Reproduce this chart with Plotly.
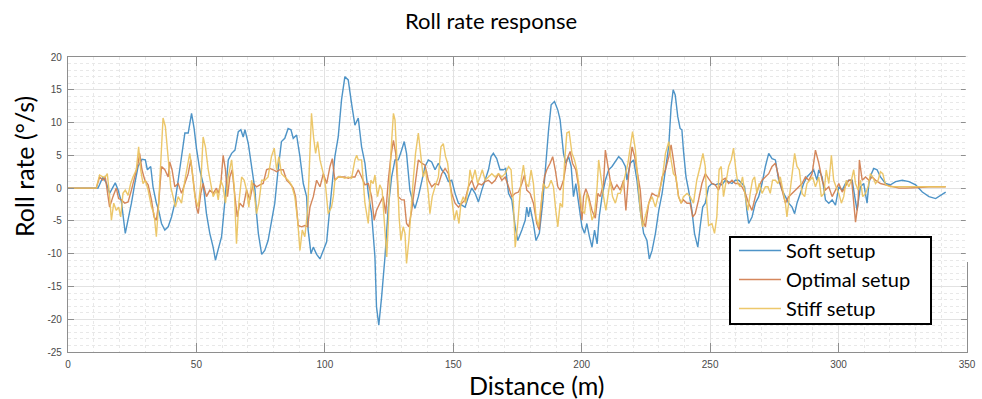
import plotly.graph_objects as go

# ---------------- data ----------------
soft_x = [0, 11, 11.7, 13.6, 15, 16.2, 17.5, 18.4, 19.5, 20.8, 22.3, 23.4, 24.7, 26, 27.3, 28.8, 30.1, 30.9, 32.2, 33.1,
          34.4, 35.3, 36.4, 37.7, 39, 40.3, 41.6, 42.9, 44.2, 45.5, 46.8, 48.1, 49.1, 50, 51.3, 52.6, 53.9, 55.2, 56.5, 57.4,
          58.5, 59.8, 61, 62.4, 63.7, 65, 66.3, 67.3, 68.2, 68.9, 70.2, 71.5, 72.8, 73.4, 74.1, 75.4, 76.6, 77.9, 79.2, 80.5,
          81.8, 83.1, 84.4, 85.7, 86.8, 87.7, 89, 90.3, 91.6, 92.9, 93.5, 94.6, 95.5, 96.8, 98.1, 99.4, 100.7, 101.6, 102.6, 103.9,
          105.2, 106.5, 107.8, 109.1, 110.4, 111.7, 113, 114.3, 115.6, 116.9, 118.2, 119.5, 120.1, 121, 122.1, 123.4, 124.7, 126, 127.3, 128.6,
          129.9, 130.9, 131.8, 133.1, 134.4, 135.1, 136.4, 137.7, 139, 140.3, 141.6, 142.9, 144.2, 145.5, 146.8, 148.1, 149.4, 150.7, 152, 153.3,
          154.6, 155.9, 157.2, 158.5, 159.8, 161.1, 162.4, 163.7, 164.7, 165.6, 166.9, 168.2, 169.5, 170.4, 171.5, 172.8, 174.1, 175.1, 176.7, 178,
          178.6, 179.3, 179.9, 181.2, 182.2, 183.5, 184.8, 186, 187.1, 188.1, 189.4, 190.7, 191.6, 192.9, 193.8, 194.9, 195.9, 196.8, 197.7, 198.8,
          200.1, 201.1, 202, 203, 204, 205, 206, 206.8, 207.9, 209.2, 210.5, 211.8, 213.1, 214.4, 215.7, 217, 217.6, 218.9, 220.2, 221.5,
          222.8, 224.1, 225.4, 226.3, 227.4, 228.7, 230, 231.3, 232.6, 233.9, 234.8, 235.6, 236.4, 237.4, 238.3, 239, 239.6, 240.6, 241.6, 242.9,
          243.9, 245.2, 246.1, 247.1, 248.1, 249.4, 250.7, 252, 253.3, 254.6, 255.9, 257.2, 258.5, 259.8, 261.1, 262.4, 263.4, 264.3, 265, 266.3,
          267.6, 268.9, 270.2, 271.5, 272.8, 274.1, 275.4, 276.7, 278, 279.3, 280.6, 281.9, 282.9, 283.8, 285.1, 286.4, 287.7, 289, 290.3, 291.6,
          292.3, 293.6, 294.9, 296.2, 297.5, 298.8, 300.1, 301.4, 302.7, 304, 305.3, 306.3, 307.2, 308.5, 309.8, 311.1, 311.8, 312.8, 313.7, 315,
          316.3, 318.3, 320.2, 322.2, 324.8, 327.4, 330, 332.6, 335.2, 337.8, 339.7, 341.7]
soft_y = [0, 0, 0, 1.7, 0.7, -0.8, 0.2, 0.8, -0.3, -2.1, -6.9, -4.9, -2.3, 0.7, 3.3, 4.4, 4.3, 2.8, 3.3, 0.2,
          -2.3, -3.4, -5.4, -6.4, -5.9, -4.4, -2.3, 1.2, 4.8, 8.4, 8.4, 11.4, 9.1, 6.1, 2.8, 0.7, -3.9, -6.9, -9.0, -11.0,
          -9.3, -7.4, -2.3, 4.3, 5.3, 5.8, 8.6, 8.9, 7.8, 8.9, 6.8, 2.8, -0.3, -3.9, -6.9, -10.1, -9.5, -8.0, -4.9, -2.3,
          2.8, 7.1, 7.6, 9.1, 8.9, 7.6, 8.1, 4.8, 0.7, -1.3, -6.4, -10.0, -9.0, -10.1, -10.8, -9.5, -8.2, -4.4, -0.8, 4.8,
          7.8, 13.5, 17.0, 16.5, 12.9, 9.6, 10.7, 6.3, 3.8, -0.8, -3.9, -10.5, -18.1, -20.9, -16.6, -10.5, -2.9, 1.7, 4.3, 4.3,
          5.8, 7.1, 5.3, -0.3, -2.3, -3.1, -1.3, 1.2, 3.3, 4.3, 4.0, 2.8, 3.8, 2.8, 2.2, 1.0, 1.2, -0.8, -2.3, -2.6,
          -2.9, -1.3, 0.0, -0.8, -2.1, -0.3, 1.2, 2.8, 4.8, 5.3, 4.5, 2.8, 2.8, 3.0, -0.8, -1.8, -5.9, -8.0, -6.4, -4.9,
          -2.9, -4.4, -2.9, -5.4, -8.0, -6.9, -2.3, 3.8, 8.9, 12.7, 13.2, 11.9, 10.4, 5.3, 3.8, 4.8, 3.3, -1.3, 0.7, -2.3,
          -5.9, -6.9, -5.4, -7.4, -9.0, -6.4, -8.5, -4.4, -1.3, 1.2, 2.8, 3.3, 4.0, 4.8, 4.3, 3.3, 1.2, 3.8, 4.3, 1.2,
          -3.4, -6.9, -8.0, -10.8, -9.5, -6.9, -3.4, -0.8, 2.8, 6.5, 12.4, 15.0, 14.2, 10.9, 9.1, 8.9, 5.8, 1.7, -0.3, -3.4,
          -6.9, -9.0, -5.9, -2.9, -2.3, 0.2, 0.7, 0.5, 0.7, 0.5, 1.2, 1.0, 0.7, 1.2, 1.2, 0.7, 0.2, -3.4, -5.4, -4.4,
          -2.3, -1.3, 0.7, 3.3, 5.3, 4.5, 4.3, 1.2, -0.3, -1.3, -2.3, -2.9, -3.9, -2.3, -0.8, 0.7, 1.7, 2.2, 2.8, 1.2,
          2.8, 1.7, -1.8, -2.3, -1.8, -2.6, 0.2, -0.3, 0.7, 1.2, 1.2, -1.3, -3.4, 0.2, 0.7, -2.3, 0.7, 2.2, 3.0, 2.8,
          1.7, 0.7, 0.5, 1.0, 1.2, 1.0, 0.5, -0.6, -1.3, -1.6, -1.1, -0.6]

optimal_x = [0, 11, 12.3, 13.6, 14.5, 15.3, 16.2, 17.5, 18.8, 19.7, 20.8, 22.1, 23.4, 24.7, 26, 27.3, 27.9, 28.8, 29.9, 31.2,
             32.5, 33.5, 34.4, 35.3, 36.4, 37.7, 39, 39.6, 40.5, 41.6, 42.9, 44.2, 45.5, 46.8, 47.8, 48.7, 50, 50.7, 51.7, 52.6,
             53.9, 55.2, 56.5, 57.8, 58.5, 59.5, 60.4, 61.3, 62.1, 63, 63.9, 65, 65.9, 66.9, 68.2, 69.5, 70.8, 72.1, 73.4, 74.7,
             76, 77.3, 78.6, 79.9, 81.2, 82.5, 83.8, 85.1, 86.4, 87.7, 88.6, 89.6, 90.9, 92.2, 93.3, 94.2, 95.5, 96.8, 98.1, 99.4,
             100.7, 102, 102.9, 103.9, 105.2, 106.5, 107.8, 109.1, 110.4, 111.7, 113, 114.3, 115.6, 116.9, 118.2, 119.2, 120.1, 121.4, 122.7, 123.7,
             124.7, 125.7, 126.7, 127.6, 128.6, 129.9, 130.9, 131.8, 132.7, 133.8, 135.1, 136.4, 137.7, 139, 140.3, 141.6, 142.9, 144.2, 145.5, 146.8,
             148.1, 149.4, 150.7, 152, 153.3, 154.6, 155.9, 157.2, 158.5, 159.8, 161.1, 162.4, 163.7, 165, 166.3, 167.6, 168.9, 170.2, 171.5, 172.8,
             174.1, 175.4, 176.7, 177.7, 178.6, 179.9, 181.2, 182.5, 183.5, 184.5, 185.5, 186.4, 187.7, 188.7, 189.7, 190.7, 191.6, 192.9, 194.2, 195.5,
             196.4, 197.7, 198.8, 200.1, 200.7, 201.6, 202.7, 204, 205.3, 206.3, 207.2, 208.5, 209.2, 210.2, 211.1, 212.4, 213.7, 215, 216.3, 217.2,
             218.3, 219.6, 220.6, 221.5, 222.8, 223.7, 224.8, 226.1, 227.4, 228.7, 230, 231.3, 232.6, 233.9, 234.8, 235.7, 236.7, 237.7, 238.7, 239.6,
             241, 242.2, 243.2, 244.2, 245.5, 246.8, 248.1, 249.4, 250.7, 252, 253.3, 254.6, 255.9, 257.2, 258.5, 259.8, 261.1, 262.4, 263.7, 265,
             266.3, 267.6, 268.9, 270.2, 271.5, 272.8, 274.1, 275.4, 276.7, 278, 279.3, 280.6, 281.9, 283.2, 284.5, 285.8, 287.1, 288.4, 289.7, 291,
             292.3, 293.6, 294.9, 296.2, 297.5, 298.8, 300.1, 301.4, 302.7, 304, 305.1, 305.9, 306.6, 307.6, 308.1, 309.2, 310.5, 311.8, 313.1, 314.4,
             316.3, 318.3, 320.9, 323.5, 326.1, 328.7, 331.3, 335.2, 339.1, 341.7]
optimal_y = [0, 0, 1.7, 1.2, 1.7, -0.8, -2.9, -1.3, 0.0, -1.6, -1.8, -2.3, -2.1, -0.3, 1.7, 3.8, 5.3, 2.8, 1.2, 0.5,
             -1.8, -4.4, -4.9, -2.3, 3.3, 2.8, 1.7, 4.0, 2.8, 0.2, 0.7, -0.8, 0.7, 2.2, 4.3, 1.2, -2.9, -3.9, -0.8, 0.7,
             -1.3, -0.3, -0.8, 0.0, -0.8, 0.7, 5.0, 2.8, -1.3, 1.7, 2.8, -1.3, -4.4, -2.3, -2.9, -0.3, -1.8, 0.7, 0.2, 0.5,
             0.7, 2.8, 3.0, 2.8, 2.5, 2.8, 2.8, 1.2, 0.7, 0.0, -1.3, -5.7, -5.9, -5.7, -5.9, -2.9, -1.3, 1.2, 0.2, 2.2,
             0.7, 3.3, 4.5, 1.2, 1.7, 1.7, 1.7, 1.5, 1.7, 1.7, 2.8, 1.7, 0.5, 0.7, -1.3, -4.9, -3.4, -2.3, -1.3, -3.9,
             1.2, 4.8, 7.3, 5.3, -1.3, -1.8, -1.8, -5.4, -5.9, -3.4, 0.7, 4.3, 3.8, 3.5, 1.2, 0.2, 0.7, 0.5, 2.2, 3.0,
             2.2, -0.8, -2.3, -2.9, -2.3, -1.8, 0.2, 1.2, -0.3, 0.7, 0.5, 1.0, 1.2, 0.7, 1.2, 2.2, 1.2, 1.7, 0.2, -1.3,
             -0.8, -0.6, 0.7, 2.0, -0.3, -0.8, -2.3, -5.4, -6.4, -1.3, 1.7, 2.8, 3.8, 4.8, 2.8, 0.2, -0.3, 1.2, 4.3, 5.6,
             3.8, 2.8, 0.2, -4.9, -1.3, -0.1, -1.3, -3.4, -4.6, -0.8, -1.3, 0.7, 5.8, 3.3, 1.2, -0.3, 0.5, -0.3, 1.2, -3.4,
             2.2, 6.3, 4.8, 2.8, -0.3, -4.9, -5.9, -2.3, -0.8, -1.1, -1.3, 1.7, 2.8, 4.8, 6.6, 4.3, 1.2, -1.3, -2.3, -1.8,
             -2.3, -2.3, -4.4, -3.9, -1.8, 0.7, 2.2, 1.5, 0.7, 0.5, -0.3, 1.2, 1.5, 0.7, 1.2, 0.7, 0.7, 0.2, -0.8, -2.3,
             -3.4, -1.3, 0.2, 1.2, 1.7, 2.2, 3.3, 3.8, 1.7, -0.3, -2.3, -1.3, -0.8, -0.3, 0.2, 0.7, 1.7, 1.2, 2.2, 5.8,
             3.8, 1.2, -0.3, 0.2, -1.3, -0.3, 0.7, -0.6, 0.2, 1.2, 1.2, -2.3, -5.2, -2.3, 4.3, 1.2, 1.7, 1.2, 1.7, 1.2,
             0.7, 0.5, 0.2, 0.0, 0.0, 0.0, 0.1, 0.2, 0.2, 0.2]

stiff_x = [0, 11, 12.3, 13.6, 14.5, 15.3, 16.2, 16.9, 17.8, 18.8, 19.7, 20.5, 21.4, 22.3, 23.4, 24.4, 25.3, 26.6, 27.5, 28.3,
           29.2, 30.1, 31.2, 32.5, 33.5, 34.4, 35.3, 36.1, 37, 37.9, 39, 40, 40.9, 41.8, 42.9, 44.2, 45.5, 46.5, 47.4, 48.3,
           49.4, 50.7, 51.7, 52.6, 53.5, 54.6, 55.6, 56.5, 57.8, 58.5, 59.5, 60.4, 61.3, 62.4, 63.7, 64.7, 65.6, 66.5, 67.6, 68.6,
           69.5, 70.4, 71.5, 72.5, 73.4, 74.3, 75.4, 76.6, 77.9, 79.2, 80.3, 81.2, 82.1, 83.1, 84.4, 85.7, 87, 88.3, 89.4, 90.3,
           91.2, 92.2, 93.3, 94.2, 94.8, 95.6, 96.4, 97.2, 98.1, 99.4, 100.3, 101.3, 102.6, 103.3, 103.9, 105.2, 106.5, 107.8, 109.1, 110.4,
           111.7, 112.4, 113, 114.3, 115.6, 116.9, 117.9, 118.8, 119.5, 120.5, 121.4, 122.3, 123.4, 124.1, 124.7, 125.7, 126.7, 127.3, 128, 128.9,
           129.6, 130.5, 131.2, 131.8, 132.7, 133.5, 134.4, 135.3, 136.4, 137.4, 138.3, 139.2, 140.3, 140.9, 141.8, 142.9, 144.2, 145.2, 146.1, 147,
           147.8, 148.7, 149.6, 150.4, 151.3, 152.2, 153, 153.9, 154.8, 155.9, 156.5, 157.4, 158.5, 159.5, 160.4, 161.3, 162.4, 163.7, 165, 166.3,
           167.6, 168.9, 170.2, 171.5, 172.5, 173.4, 174.1, 175.1, 176.4, 177.3, 178.3, 179.3, 180.3, 181.2, 182.2, 183.2, 184.2, 185.1, 186.1, 187.1,
           188.1, 189, 189.9, 190.7, 191.6, 192.5, 193.3, 194.2, 195.1, 196.2, 197.2, 198.1, 199, 200.1, 201.1, 202, 203, 204, 205, 206,
           206.6, 207.6, 208.5, 209.4, 210.2, 211.1, 212, 213.1, 214.1, 215, 215.9, 217, 218, 218.9, 219.8, 220.9, 221.9, 222.8, 223.7, 224.8,
           226.1, 227.4, 228.7, 230, 231.3, 232.6, 233.9, 234.8, 235.7, 236.7, 237.7, 238.7, 239.6, 241, 242.2, 243.5, 244.8, 246.1, 247.2, 248.1,
           248.7, 249.4, 250.7, 251.7, 252.6, 253.5, 254.3, 255.2, 256.1, 257.2, 258.2, 259.1, 260, 260.8, 261.7, 262.6, 263.7, 264.7, 265.6, 266.5,
           267.3, 268.2, 269.1, 270.2, 271.5, 272.5, 273.4, 274.3, 275.4, 276.4, 277.3, 278.2, 279.3, 279.9, 280.8, 281.9, 282.9, 283.8, 284.7, 285.8,
           286.8, 287.7, 289, 289.9, 291, 292.3, 293.3, 294.3, 295.2, 296.2, 297.2, 298.1, 299, 300.1, 301.1, 302, 303, 304, 305, 305.9,
           306.6, 307.6, 308.5, 309.4, 310.5, 311.5, 312.4, 313.3, 314.4, 315.4, 316.3, 317.2, 318.3, 320.2, 323.5, 327.4, 331.3, 336.5, 341.7]
stiff_y = [0, 0, 2.0, 1.7, 1.7, 2.2, -1.3, -4.9, -2.3, -3.4, -2.9, -4.4, -0.8, -0.3, -1.1, 0.7, 1.7, 2.8, 6.3, 2.8,
           0.7, 1.2, -0.3, -2.9, -3.9, -7.4, -2.3, 4.3, 10.7, 9.4, 4.8, 0.2, -1.3, -2.9, -1.3, -2.3, 1.2, 3.3, 5.3, 2.8,
           -1.3, -2.9, 0.7, 7.8, 6.3, 2.8, 0.7, -1.3, -0.3, -1.8, 1.2, 0.2, -2.3, 1.7, 4.3, 0.2, -8.5, -2.3, 1.7, 1.2,
           -0.3, -2.9, 1.2, -0.8, -3.9, -2.3, 1.2, 1.2, 1.7, 4.8, 6.1, 2.8, 4.8, 2.2, 1.7, 1.2, 0.5, -1.3, -4.9, -9.5,
           -6.4, -7.4, -3.4, 5.3, 11.4, 7.8, 5.3, 7.1, 4.3, 2.2, 0.2, -3.9, -2.9, -1.3, 1.2, 1.7, 1.7, 1.5, 1.7, 1.5,
           4.3, 5.0, 4.3, 4.3, -2.3, -5.4, 1.2, 0.7, 2.0, -1.3, 0.5, -0.3, -5.9, -10.5, -5.4, 5.3, 11.4, 10.4, 4.8, -4.4,
           -8.0, -5.9, -6.9, -11.5, -8.0, -3.4, 1.2, 5.3, 8.4, 4.8, 1.7, 2.8, -0.8, -3.9, -1.3, 0.2, 1.7, 6.3, 6.8, 4.8,
           3.8, 0.7, -2.3, -4.9, -3.4, -5.4, -2.3, -1.3, -2.3, 0.2, 2.8, 1.2, 2.8, 0.7, 1.7, 2.8, 1.2, 1.7, 2.2, 1.7,
           2.2, 1.7, 2.2, 3.3, 2.8, -2.3, -9.0, -5.4, 1.2, 3.5, 0.7, 0.2, 2.8, 0.7, -4.4, -5.9, -2.3, 0.7, 0.0, 0.2,
           1.2, 0.2, -3.4, -5.9, -2.3, -2.9, 3.8, 8.4, 8.6, 5.3, 4.3, 2.8, 0.2, -3.4, -3.9, -0.8, -2.3, -4.9, -3.9, 0.2,
           4.3, 1.2, -1.3, -3.4, -0.8, 1.2, -1.3, -2.3, -0.8, -0.8, 0.2, 2.2, 3.8, 6.3, 8.6, 5.8, 1.2, -3.4, -5.9, -4.4,
           -2.3, -1.3, -2.9, -0.8, 1.2, 5.3, 7.1, 4.3, 2.2, 1.7, -1.3, -2.3, -1.3, -0.8, -1.3, -2.3, 1.2, 3.3, 5.3, 3.3,
           -2.3, -5.7, -5.4, -6.9, -4.4, 2.8, 3.3, -1.3, 0.7, 3.3, 4.3, 6.1, 2.8, 0.7, 0.2, 1.7, -1.3, -3.4, -0.8, 1.2,
           1.7, -0.8, 0.7, -0.8, 0.2, 0.2, -0.8, 1.2, 1.2, 0.7, 1.7, -0.3, -2.3, -4.4, -1.3, 2.8, 5.3, 3.3, 2.8, -0.8,
           -1.3, 0.7, 1.2, 1.7, 0.2, 1.7, -1.3, -0.8, 2.8, 0.7, 5.0, 1.2, 0.2, -0.8, -2.3, -1.3, 1.2, 0.2, 1.2, 2.8,
           0.7, -0.3, 1.2, -1.3, -0.8, 0.2, 2.2, 1.7, 0.7, 1.2, 2.5, 2.2, 0.5, 0.2, 0.2, 0.2, 0.2, 0.2, 0.2]

series_names = ["Soft setup", "Optimal setup", "Stiff setup"]
series_colors = ["#3f8bc3", "#d17d4e", "#ebc35e"]

x_tick_vals = [0, 50, 100, 150, 200, 250, 300, 350]
x_tick_text = ["0", "50", "100", "150", "200", "250", "300", "350"]
y_tick_vals = [-25, -20, -15, -10, -5, 0, 5, 10, 15, 20]
y_tick_text = ["-25", "-20", "-15", "-10", "-5", "0", "5", "10", "15", "20"]

title_text = "Roll rate response"
x_title = "Distance (m)"
y_title = "Roll rate (°/s)"

# ---------------- figure ----------------
W, H = 982, 399
ML, MR, MT, MB = 68, 15, 57, 47
PW, PH = W - ML - MR, H - MT - MB


def px_to_paper_x(px):
    return (px - ML) / PW


def px_to_paper_y(py):
    return (H - MB - py) / PH


fig = go.Figure()
for xs, ys, name, col in zip([soft_x, optimal_x, stiff_x], [soft_y, optimal_y, stiff_y], series_names, series_colors):
    fig.add_trace(go.Scatter(x=xs, y=ys, mode="lines", name=name,
                             line=dict(color=col, width=1.4), opacity=0.92))

axis_line = "#8e8e8e"
tick_font = dict(family="Liberation Sans, Arial, sans-serif", size=10, color="#4a4a4a")

fig.update_layout(
    width=W, height=H,
    margin=dict(l=ML, r=MR, t=MT, b=MB, autoexpand=False),
    paper_bgcolor="white", plot_bgcolor="white",
    title=dict(text=title_text, x=0.5, xanchor="center", y=1 - 21 / H, yanchor="middle",
               font=dict(family="Lato, Open Sans, sans-serif", size=22, color="black")),
    showlegend=True,
    legend=dict(x=px_to_paper_x(734), y=px_to_paper_y(231), xanchor="left", yanchor="top",
                bgcolor="rgba(0,0,0,0)", borderwidth=0, itemwidth=42, tracegroupgap=0,
                font=dict(family="Lato, Open Sans, sans-serif", size=20, color="black")),
    xaxis=dict(range=[0, 350], tickvals=x_tick_vals, ticktext=x_tick_text,
               ticks="inside", ticklen=9, tickcolor=axis_line, tickwidth=1,
               showline=True, linecolor=axis_line, linewidth=1.3, mirror="ticks",
               showgrid=True, gridcolor="#e2e2e2", gridwidth=1, zeroline=False,
               tickfont=tick_font, ticklabelstandoff=3,
               minor=dict(dtick=10, showgrid=True, gridcolor="#e8e8e8", griddash="dot", gridwidth=1, ticks="")),
    yaxis=dict(range=[-25, 20], tickvals=y_tick_vals, ticktext=y_tick_text,
               ticks="inside", ticklen=6, tickcolor=axis_line, tickwidth=1,
               showline=True, linecolor=axis_line, linewidth=1.3, mirror="ticks",
               showgrid=True, gridcolor="#e2e2e2", gridwidth=1, zeroline=False,
               tickfont=tick_font, ticklabelstandoff=3,
               minor=dict(dtick=1, showgrid=True, gridcolor="#e8e8e8", griddash="dot", gridwidth=1, ticks="")),
    annotations=[
        dict(text=x_title, xref="paper", yref="paper", x=px_to_paper_x(537), y=px_to_paper_y(385),
             xanchor="center", yanchor="middle", showarrow=False,
             font=dict(family="Lato, Open Sans, sans-serif", size=25, color="black")),
        dict(text=y_title, xref="paper", yref="paper", x=px_to_paper_x(24), y=px_to_paper_y(167),
             xanchor="center", yanchor="middle", showarrow=False, textangle=-90,
             font=dict(family="Lato, Open Sans, sans-serif", size=25, color="black")),
    ],
    shapes=[
        # hide upper part of right border (reference only shows its lower part)
        dict(type="line", xref="paper", yref="paper", x0=1, x1=1, y0=px_to_paper_y(262), y1=1.003,
             line=dict(color="white", width=2.5), layer="above"),
        # legend box
        dict(type="rect", xref="paper", yref="paper",
             x0=px_to_paper_x(730), x1=px_to_paper_x(931), y0=px_to_paper_y(324), y1=px_to_paper_y(237),
             line=dict(color="black", width=2), fillcolor="white", layer="above"),
    ],
)

fig.write_html("out.html")
